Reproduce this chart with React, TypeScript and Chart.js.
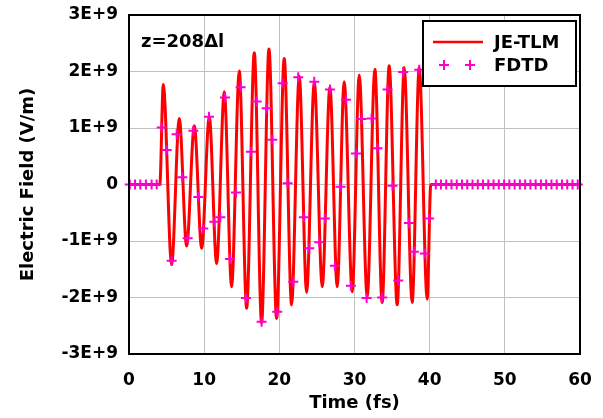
import React, { useEffect, useRef } from 'react';
import { Chart, registerables } from 'chart.js';

Chart.register(...registerables);

// ---- data ----
const xTickLabels = ['0', '10', '20', '30', '40', '50', '60'];
const yTickLabels = ['-3E+9', '-2E+9', '-1E+9', '0', '1E+9', '2E+9', '3E+9'];

const xTitle = 'Time (fs)';
const yTitle = 'Electric Field (V/m)';
const annotationText = 'z=208\u0394l';
const seriesNames = ['JE-TLM', 'FDTD'];

// JE-TLM curve: onset, successive extrema, end of pulse (time in fs, field in V/m)
const jeTlmTime = [
  0, 4.1, 4.56, 5.67, 6.69, 7.67, 8.69, 9.67, 10.68, 11.66, 12.68, 13.65, 14.67, 15.65,
  16.67, 17.64, 18.62, 19.64, 20.65, 21.63, 22.65, 23.63, 24.65, 25.71, 26.73, 27.7,
  28.63, 29.7, 30.63, 31.69, 32.71, 33.68, 34.61, 35.68, 36.61, 37.67, 38.61, 39.67,
  40.15, 60,
];
const jeTlmField = [
  0, 0, 1.77e9, -1.42e9, 1.17e9, -1.09e9, 1.04e9, -1.13e9, 1.2e9, -1.4e9, 1.64e9, -1.81e9, 2.01e9, -2.19e9,
  2.33e9, -2.45e9, 2.4e9, -2.37e9, 2.23e9, -2.13e9, 1.92e9, -1.91e9, 1.82e9, -1.81e9, 1.73e9, -1.81e9,
  1.82e9, -1.9e9, 1.94e9, -1.99e9, 2.04e9, -2.09e9, 2.1e9, -2.13e9, 2.07e9, -2.09e9, 2.07e9, -2.03e9,
  0, 0,
];

// FDTD samples
const fdtdTime = [
  0.1, 0.8, 1.5, 2.25, 3.01, 3.68,
  4.35, 5.01, 5.67, 6.34, 7.09, 7.8, 8.56, 9.22, 9.88, 10.64, 11.35, 12.15, 12.77, 13.43, 14.23, 14.85, 15.56,
  16.22, 16.98, 17.64, 18.31, 19.06, 19.72, 20.44, 21.1, 21.85, 22.51, 23.27, 23.98, 24.65, 25.31, 26.06, 26.73, 27.39, 28.15,
  28.86, 29.52, 30.19, 30.94, 31.61, 32.27, 33.07, 33.68, 34.4, 35.06, 35.81, 36.48, 37.23, 37.9, 38.61, 39.36, 39.93, 40.82,
  41.5, 42.2, 42.9, 43.6, 44.3, 45.0, 45.7, 46.4, 47.1, 47.8, 48.5, 49.2, 49.9, 50.6, 51.3, 52.0, 52.7, 53.4,
  54.1, 54.8, 55.5, 56.2, 56.9, 57.6, 58.3, 59.0, 59.7,
];
const fdtdField = [
  0, 0, 0, 0, 0, 0,
  1.01e9, 0.61e9, -1.35e9, 0.89e9, 0.13e9, -0.95e9, 0.95e9, -0.22e9, -0.78e9, 1.2e9, -0.66e9, -0.58e9, 1.54e9, -1.32e9, -0.14e9, 1.72e9, -2.01e9,
  0.58e9, 1.47e9, -2.43e9, 1.35e9, 0.79e9, -2.25e9, 1.79e9, 0.02e9, -1.72e9, 1.9e9, -0.58e9, -1.13e9, 1.82e9, -1.02e9, -0.6e9, 1.68e9, -1.44e9, -0.04e9,
  1.5e9, -1.79e9, 0.55e9, 1.16e9, -2.01e9, 1.17e9, 0.64e9, -2.0e9, 1.68e9, -0.02e9, -1.7e9, 1.99e9, -0.68e9, -1.19e9, 2.03e9, -1.22e9, -0.6e9, 0,
  0, 0, 0, 0, 0, 0, 0, 0, 0, 0, 0, 0, 0, 0, 0, 0, 0, 0,
  0, 0, 0, 0, 0, 0, 0, 0, 0,
];

const RED = '#ff0000';
const MAGENTA = '#ff00cc';
const FONT = '"DejaVu Sans", "Liberation Sans", Arial, sans-serif';

const overlayPlugin = {
  id: 'overlay',
  afterDraw(chart: any) {
    const { ctx, chartArea: a } = chart;
    ctx.save();
    // plot frame
    ctx.strokeStyle = '#000';
    ctx.lineWidth = 2;
    ctx.strokeRect(a.left, a.top, a.right - a.left, a.bottom - a.top);

    // annotation
    ctx.fillStyle = '#000';
    ctx.font = `bold 18px ${FONT}`;
    ctx.textAlign = 'left';
    ctx.textBaseline = 'middle';
    ctx.fillText(annotationText, a.left + 12, a.top + 27);

    // legend
    const bx = a.right - 157;
    const by = a.top + 6;
    const bw = 153;
    const bh = 65;
    ctx.fillStyle = '#fff';
    ctx.fillRect(bx, by, bw, bh);
    ctx.strokeStyle = '#000';
    ctx.lineWidth = 2;
    ctx.strokeRect(bx, by, bw, bh);

    const row1 = by + 21;
    const row2 = by + 44;
    ctx.strokeStyle = RED;
    ctx.lineWidth = 2.5;
    ctx.beginPath();
    ctx.moveTo(bx + 10, row1);
    ctx.lineTo(bx + 60, row1);
    ctx.stroke();

    ctx.strokeStyle = MAGENTA;
    ctx.lineWidth = 2;
    [bx + 21, bx + 47].forEach((cx) => {
      ctx.beginPath();
      ctx.moveTo(cx - 5, row2);
      ctx.lineTo(cx + 5, row2);
      ctx.moveTo(cx, row2 - 5);
      ctx.lineTo(cx, row2 + 5);
      ctx.stroke();
    });

    ctx.fillStyle = '#000';
    ctx.font = `bold 18px ${FONT}`;
    ctx.fillText(chart.data.datasets[0].label, bx + 71, row1 + 1);
    ctx.fillText(chart.data.datasets[1].label, bx + 71, row2 + 1);
    ctx.restore();
  },
};

export default function App() {
  const canvasRef = useRef<HTMLCanvasElement>(null);

  useEffect(() => {
    document.body.style.margin = '0';
    const canvas = canvasRef.current;
    if (!canvas) return;

    const jeData = jeTlmTime.map((t, i) => ({ x: t, y: jeTlmField[i] }));
    const fdtdData = fdtdTime.map((t, i) => ({ x: t, y: fdtdField[i] }));

    const chart = new Chart(canvas, {
      type: 'scatter',
      data: {
        datasets: [
          {
            label: seriesNames[0],
            data: jeData,
            showLine: true,
            borderColor: RED,
            backgroundColor: RED,
            borderWidth: 3,
            pointRadius: 0,
            cubicInterpolationMode: 'monotone',
            order: 1,
          } as any,
          {
            label: seriesNames[1],
            data: fdtdData,
            showLine: false,
            pointStyle: 'cross',
            pointRadius: 5,
            pointBorderWidth: 2,
            borderColor: MAGENTA,
            backgroundColor: MAGENTA,
            clip: false,
            order: 0,
          } as any,
        ],
      },
      options: {
        responsive: false,
        animation: false,
        events: [],
        layout: { padding: { top: 15, right: 23, left: 0, bottom: 0 } },
        plugins: {
          legend: { display: false },
          tooltip: { enabled: false },
        },
        scales: {
          x: {
            type: 'linear',
            min: 0,
            max: 60,
            afterFit: (s: any) => {
              s.height = 64;
              s.paddingLeft = 0;
              s.paddingRight = 0;
            },
            ticks: {
              stepSize: 10,
              color: '#000',
              padding: 16,
              font: { family: FONT, size: 17, weight: 'bold' },
              callback: (v: any) => xTickLabels[Math.round(Number(v) / 10)],
            },
            grid: { color: '#c0c0c0', lineWidth: 1, drawTicks: false },
            border: { display: false },
            title: {
              display: true,
              text: xTitle,
              color: '#000',
              font: { family: FONT, size: 18, weight: 'bold' },
              padding: { top: 0, bottom: 4 },
            },
          },
          y: {
            type: 'linear',
            min: -3e9,
            max: 3e9,
            afterFit: (s: any) => {
              s.width = 129;
              s.paddingTop = 0;
              s.paddingBottom = 0;
            },
            ticks: {
              stepSize: 1e9,
              color: '#000',
              padding: 11,
              font: { family: FONT, size: 17, weight: 'bold' },
              callback: (v: any) => yTickLabels[Math.round(Number(v) / 1e9) + 3],
            },
            grid: { color: '#c0c0c0', lineWidth: 1, drawTicks: false },
            border: { display: false },
            title: {
              display: true,
              text: yTitle,
              color: '#000',
              font: { family: FONT, size: 18, weight: 'bold' },
              padding: { top: 18, bottom: 0 },
            },
          },
        },
      } as any,
      plugins: [overlayPlugin],
    });

    return () => chart.destroy();
  }, []);

  return (
    <div style={{ width: 603, height: 418, background: '#fff' }}>
      <canvas ref={canvasRef} width={603} height={418} style={{ display: 'block', width: 603, height: 418 }} />
    </div>
  );
}
